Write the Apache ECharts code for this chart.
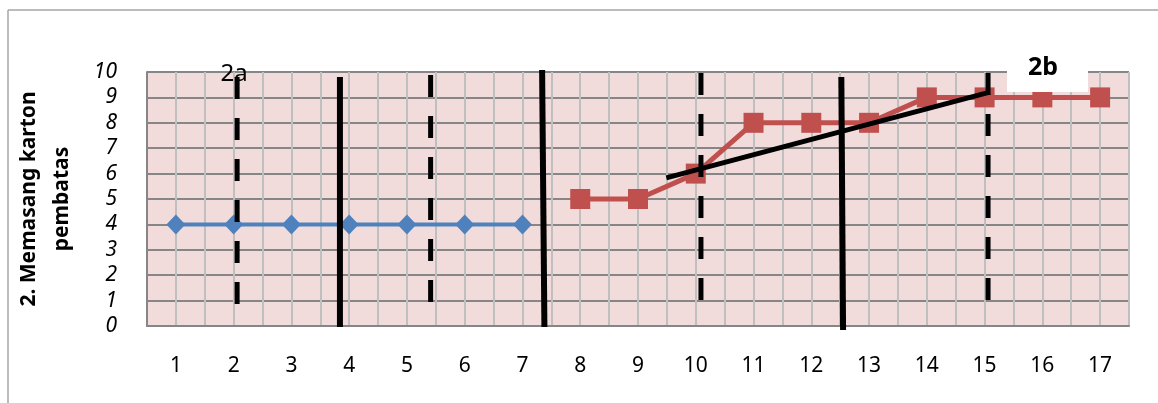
<!DOCTYPE html>
<html>
<head>
<meta charset="utf-8">
<script src="https://cdn.jsdelivr.net/npm/echarts@6/dist/echarts.min.js"></script>
<style>
html,body{margin:0;padding:0;background:#fff;}
#chart{width:1158px;height:403px;}
</style>
</head>
<body>
<div id="chart"></div>
<script>
// ---- data ----
const categories = [1,2,3,4,5,6,7,8,9,10,11,12,13,14,15,16,17];
const blueCategories = [1,2,3,4,5,6,7];
const blueValues = [4,4,4,4,4,4,4];
const redCategories = [8,9,10,11,12,13,14,15,16,17];
const redValues = [5,5,6,8,8,8,9,9,9,9];
const yTicks = [0,1,2,3,4,5,6,7,8,9,10];
const yTitle = "2. Memasang karton\npembatas";
// phase-change lines: [[x,y],[x,y]] in axis units
const solidLines = [
  [[3.84, 9.8], [3.84, -0.04]],
  [[7.34, 10.08], [7.38, -0.04]],
  [[12.52, 9.8], [12.55, -0.16]]
];
const dashedLines = [
  [[2.06, 9.8], [2.06, 0.65]],
  [[5.41, 9.88], [5.41, 0.6]],
  [[10.09, 9.96], [10.09, 0.3]],
  [[15.06, 9.96], [15.06, 0.75]]
];
const trendLine = [[9.49, 5.83], [15.09, 9.21]];

const chart = echarts.init(document.getElementById('chart'), null, {renderer: 'canvas'});

const series = [
  {
    type: 'line',
    data: blueCategories.map((c, i) => [c, blueValues[i]]),
    symbol: 'diamond',
    symbolSize: [19, 20],
    itemStyle: {color: '#4f81bd'},
    lineStyle: {color: '#4f81bd', width: 4},
    z: 3
  },
  {
    type: 'line',
    data: redCategories.map((c, i) => [c, redValues[i]]),
    symbol: 'rect',
    symbolSize: 20,
    itemStyle: {color: '#c0504d'},
    lineStyle: {color: '#c0504d', width: 5},
    z: 3
  }
];
solidLines.forEach(l => series.push({
  type: 'line', data: l, showSymbol: false, symbol: 'none', clip: false,
  lineStyle: {color: '#000', width: 6}, z: 5, silent: true
}));
dashedLines.forEach(l => series.push({
  type: 'line', data: l, showSymbol: false, symbol: 'none', clip: false,
  lineStyle: {color: '#000', width: 5, type: [22, 19]}, z: 5, silent: true
}));
series.push({
  type: 'line', data: trendLine, showSymbol: false, symbol: 'none', clip: false,
  lineStyle: {color: '#000', width: 5}, z: 6, silent: true
});

chart.setOption({
  animation: false,
  backgroundColor: '#fff',
  grid: {
    left: 147, right: 29, top: 72, bottom: 77,
    outerBoundsMode: 'none', containLabel: false,
    show: true, backgroundColor: '#f2dcdb', borderWidth: 0
  },
  xAxis: {
    type: 'value',
    min: 0.5, max: 17.5, interval: 0.5,
    axisLine: {show: true, lineStyle: {color: '#868686', width: 2}},
    axisTick: {show: false},
    splitLine: {show: true, lineStyle: {color: '#bfbfbf', width: 2}},
    axisLabel: {
      margin: 30,
      fontFamily: 'Noto Sans', fontSize: 21, color: '#000',
      showMinLabel: true, showMaxLabel: true,
      formatter: v => (categories.indexOf(v) >= 0 ? String(v) : '')
    }
  },
  yAxis: {
    type: 'value',
    min: yTicks[0], max: yTicks[yTicks.length - 1], interval: 1,
    name: yTitle,
    nameLocation: 'middle',
    nameGap: 68,
    nameRotate: 90,
    nameTextStyle: {fontFamily: 'Noto Sans', fontWeight: 'bold', fontSize: 21, color: '#000', lineHeight: 33},
    axisLine: {show: true, lineStyle: {color: '#868686', width: 2}},
    axisTick: {show: false},
    splitLine: {show: true, lineStyle: {color: '#868686', width: 2}},
    axisLabel: {
      margin: 30,
      fontFamily: 'Noto Sans', fontSize: 21, fontStyle: 'italic', color: '#000'
    }
  },
  graphic: [
    {type: 'line', shape: {x1: 8, y1: 10, x2: 1158, y2: 10}, style: {stroke: '#a6a6a6', lineWidth: 1.5}, z: 1},
    {type: 'line', shape: {x1: 8, y1: 10, x2: 8, y2: 403}, style: {stroke: '#a6a6a6', lineWidth: 1.5}, z: 1},
    {type: 'rect', shape: {x: 1007, y: 52, width: 81, height: 40}, style: {fill: '#fff'}, z: 10},
    {type: 'text', x: 1043, y: 68, style: {text: '2b', fontFamily: 'Noto Sans', fontWeight: 'bold', fontSize: 25, fill: '#000', textAlign: 'center', textVerticalAlign: 'middle'}, z: 11},
    {type: 'text', x: 234, y: 74, style: {text: '2a', fontFamily: 'Noto Sans', fontSize: 24, fill: '#000', textAlign: 'center', textVerticalAlign: 'middle'}, z: 4}
  ],
  series: series
});
</script>
</body>
</html>
